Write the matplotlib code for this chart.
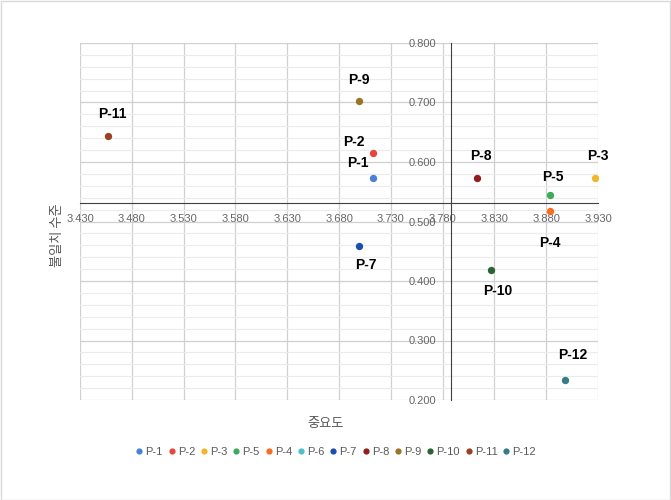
import numpy as np
import matplotlib.pyplot as plt
from matplotlib.patches import Rectangle
from matplotlib.lines import Line2D
from matplotlib.ticker import FixedLocator, MultipleLocator, FormatStrFormatter

plt.rcParams['font.family'] = ['Liberation Sans', 'Noto Sans CJK KR', 'DejaVu Sans']

# legend order as in the reference
names = ['P-1', 'P-2', 'P-3', 'P-5', 'P-4', 'P-6', 'P-7', 'P-8', 'P-9', 'P-10', 'P-11', 'P-12']
importance = [3.713, 3.713, 3.927, 3.884, 3.884, np.nan, 3.699, 3.813, 3.699, 3.827, 3.457, 3.898]
mismatch = [0.573, 0.615, 0.573, 0.545, 0.517, np.nan, 0.459, 0.573, 0.702, 0.418, 0.644, 0.233]
colors = ['#4a80d9', '#e8453c', '#f4b52a', '#3daa5c', '#fa6d1f', '#4cc2c8',
          '#1a4fb0', '#8f1f1f', '#9a7429', '#2c6333', '#9a4220', '#357d85']
# label offsets in points (dx, dy)
offsets = {'P-1': (-11, 11), 'P-2': (-14, 8), 'P-3': (2, 16), 'P-5': (2, 13),
           'P-4': (0, -23), 'P-7': (5, -14), 'P-8': (3, 16), 'P-9': (0, 15),
           'P-10': (5, -15), 'P-11': (3, 16), 'P-12': (6, 18)}

x_ticks = [3.43, 3.48, 3.53, 3.58, 3.63, 3.68, 3.73, 3.78, 3.83, 3.88, 3.93]
x_cross = 3.7885
y_cross = 0.5316

fig = plt.figure(figsize=(6.71, 5.0), dpi=100)
ax = fig.add_axes([80 / 671, 1 - 400 / 500, 518 / 671, 357 / 500])

for n, x, y, c in zip(names, importance, mismatch, colors):
    if np.isnan(x):
        continue
    ax.scatter(x, y, s=28, color=c, zorder=3, linewidths=0)
    dx, dy = offsets[n]
    ax.annotate(n, (x, y), xytext=(dx, dy), textcoords='offset points',
                ha='center', va='center', fontsize=10, fontweight='bold', color='black')

ax.set_xlim(3.43, 3.93)
ax.set_ylim(0.2, 0.8)
ax.xaxis.set_major_locator(FixedLocator(x_ticks))
ax.yaxis.set_major_locator(MultipleLocator(0.1))
ax.yaxis.set_minor_locator(MultipleLocator(0.02))
ax.xaxis.set_major_formatter(FormatStrFormatter('%.3f'))
ax.yaxis.set_major_formatter(FormatStrFormatter('%.3f'))
ax.grid(which='major', color='#d0d0d0', linewidth=0.9)
ax.grid(which='minor', axis='y', color='#ebebeb', linewidth=0.8)
ax.set_axisbelow(True)

for s in ['top', 'right']:
    ax.spines[s].set_visible(False)
ax.spines['left'].set_position(('data', x_cross))
ax.spines['bottom'].set_position(('data', y_cross))
ax.spines['left'].set_color('#404040')
ax.spines['bottom'].set_color('#404040')
ax.tick_params(which='both', length=0, labelsize=8, labelcolor='#666666')
ax.tick_params(axis='x', pad=8)
ax.tick_params(axis='y', pad=11)

fig.text(326 / 671, 1 - 424 / 500, '중요도', ha='center', va='center',
         fontsize=9.5, color='#595959', family=['Noto Sans CJK KR', 'DejaVu Sans'])
fig.text(58 / 671, 1 - 235 / 500, '불일치 수준', ha='center', va='center', rotation=90,
         fontsize=9.5, color='#595959', family=['Noto Sans CJK KR', 'DejaVu Sans'])

handles = [Line2D([], [], marker='o', linestyle='', markersize=4.5, color=c, markeredgewidth=0)
           for c in colors]
fig.legend(handles, names, loc='center', bbox_to_anchor=(335 / 671, 1 - 452 / 500),
           ncol=12, frameon=False, fontsize=8, labelcolor='#595959',
           handletextpad=0.05, columnspacing=0.3, handlelength=1.0, borderaxespad=0)

fig.patches.append(Rectangle((0.001, 0.001), 0.997, 0.997, transform=fig.transFigure,
                             fill=False, edgecolor='#d9d9d9', linewidth=1))

fig.savefig('out.png', dpi=100)
